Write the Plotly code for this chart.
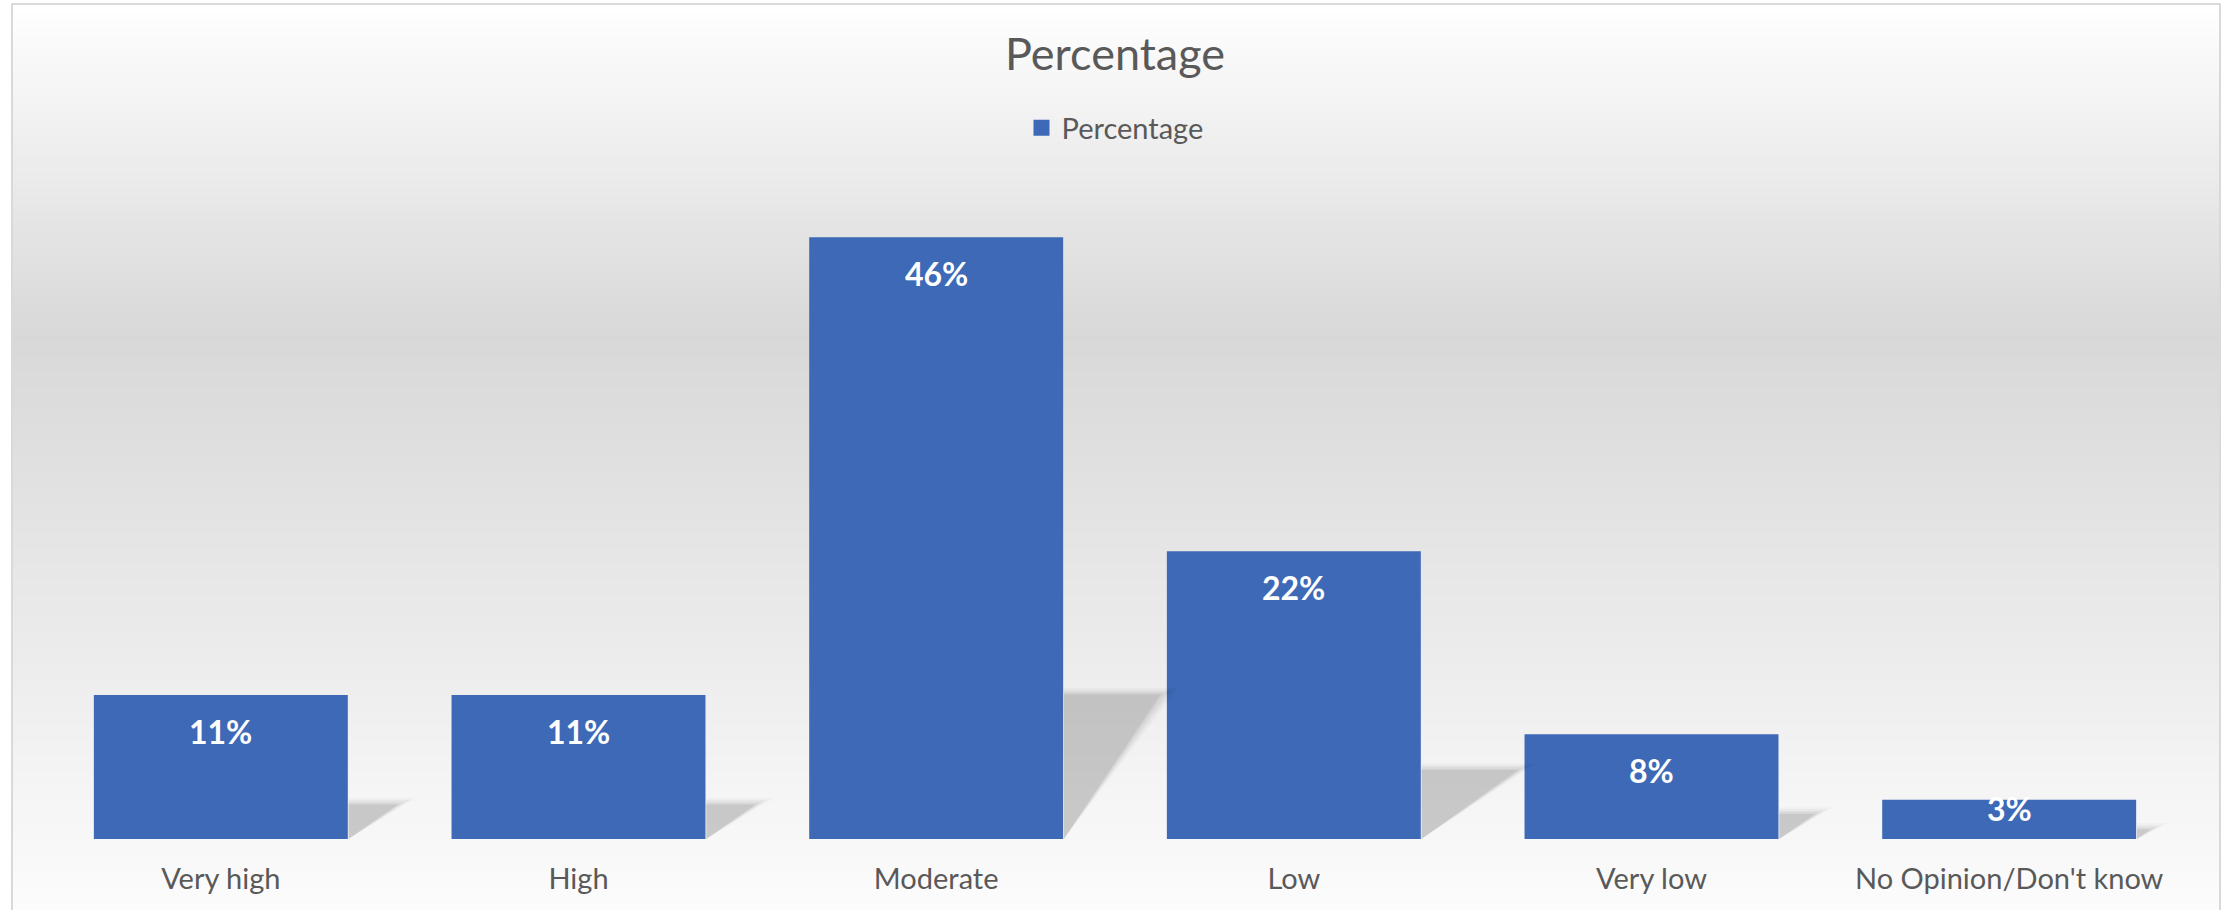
import plotly.graph_objects as go

# ---- data ----
categories = ["Very high", "High", "Moderate", "Low", "Very low", "No Opinion/Don't know"]
values = [11, 11, 46, 22, 8, 3]
labels = ["11%", "11%", "46%", "22%", "8%", "3%"]
series_name = "Percentage"
chart_title = "Percentage"

# ---- layout geometry ----
W, H = 2231, 910
ML, MR, MT, MB = 42, 43, 185, 71
PW, PH = W - ML - MR, H - MT - MB
YMAX = 50
BARW = 0.71
FONT = "Lato, 'Open Sans', sans-serif"
TXT = "#595959"
BAR_COLOR = "#3d69b7"


def px(x):
    return (x - ML) / PW


def py(y):
    return (H - MB - y) / PH


def lerp(c1, c2, t):
    return tuple(round(a + (b - a) * t) for a, b in zip(c1, c2))


def bg_color(f):
    top, mid, bot = (255, 255, 255), (216, 216, 216), (253, 253, 253)
    if f < 0.36:
        c = lerp(top, mid, f / 0.36)
    else:
        c = lerp(mid, bot, (f - 0.36) / 0.64)
    return "rgb(%d,%d,%d)" % c


shapes = []
# chart-area gradient background
y0, y1, N = 4, 925, 120
for k in range(N):
    ya = y0 + (y1 - y0) * k / N
    yb = y0 + (y1 - y0) * (k + 1) / N + 0.8
    shapes.append(dict(type="rect", xref="paper", yref="paper", layer="below",
                       x0=px(12), x1=px(2220), y0=py(ya), y1=py(yb),
                       fillcolor=bg_color((k + 0.5) / N), line=dict(width=0)))
# chart-area border
shapes.append(dict(type="rect", xref="paper", yref="paper", layer="above",
                   x0=px(12), x1=px(2220), y0=py(4), y1=py(925),
                   fillcolor="rgba(0,0,0,0)", line=dict(color="#d9d9d9", width=2)))

fig = go.Figure()

# soft bar shadows, derived from the values
for i, v in enumerate(values):
    xr = i + BARW / 2 + 0.002
    w = min(0.27, 0.0125 * v)
    h = 0.24 * v
    for grow, alpha in [(1.0, 0.025), (0.7, 0.03), (0.45, 0.035), (0.2, 0.045), (0.0, 0.06)]:
        sx = [xr, xr, xr + w + grow * 0.05, xr]
        sy = [0, h + grow * 0.5, h + grow * 0.5, 0]
        fig.add_trace(go.Scatter(x=sx, y=sy, mode="lines",
                                 fill="toself", fillcolor="rgba(0,0,0,%g)" % alpha,
                                 line=dict(width=0), hoverinfo="skip", showlegend=False))

fig.add_trace(go.Bar(x=list(range(len(categories))), y=values, width=BARW,
                     name=series_name, marker=dict(color=BAR_COLOR, line=dict(width=0)),
                     showlegend=False))
# legend entry (square swatch like the reference)
fig.add_trace(go.Scatter(x=[None], y=[None], mode="markers", name=series_name,
                         marker=dict(symbol="square", size=18, color=BAR_COLOR),
                         showlegend=True))

annotations = []
for i, (v, t) in enumerate(zip(values, labels)):
    annotations.append(dict(x=i, y=max(v - 2.75, 2.37), xref="x", yref="y",
                            text=t, showarrow=False, yanchor="middle",
                            font=dict(family=FONT, size=32, color="white", weight="bold")))

fig.update_layout(
    width=W, height=H,
    margin=dict(l=ML, r=MR, t=MT, b=MB),
    paper_bgcolor="white", plot_bgcolor="rgba(0,0,0,0)",
    title=dict(text=chart_title, x=0.5, xanchor="center", xref="paper",
               y=1 - 54 / H, yanchor="middle", yref="container",
               font=dict(family=FONT, size=45, color=TXT)),
    legend=dict(orientation="h", x=0.5, xanchor="center", y=py(128), yanchor="middle",
                font=dict(family=FONT, size=29, color=TXT), bgcolor="rgba(0,0,0,0)",
                itemwidth=30),
    xaxis=dict(range=[-0.5, len(categories) - 0.5], tickmode="array",
               tickvals=list(range(len(categories))), ticktext=categories,
               showgrid=False, zeroline=False, showline=False, ticks="",
               ticklabelstandoff=20,
               tickfont=dict(family=FONT, size=29, color=TXT), fixedrange=True),
    yaxis=dict(range=[0, YMAX], visible=False, showgrid=False, zeroline=False, fixedrange=True),
    shapes=shapes,
    annotations=annotations,
    bargap=0.29,
)

fig.write_html("out.html")
